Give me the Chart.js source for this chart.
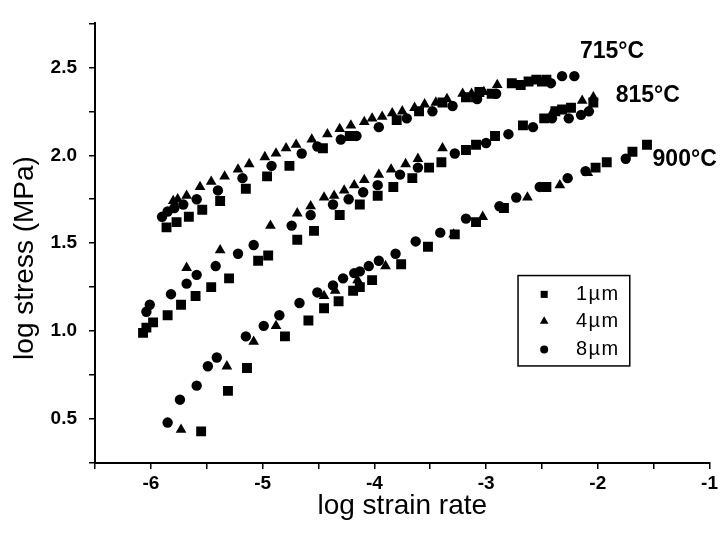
<!DOCTYPE html>
<html>
<head>
<meta charset="utf-8">
<script src="https://cdn.jsdelivr.net/npm/chart.js@4.4.0/dist/chart.umd.min.js"></script>
<style>
  body { margin: 0; background: #fff; }
  #wrap { width: 721px; height: 536px; }
</style>
</head>
<body>
<div id="wrap"><canvas id="myChart"></canvas></div>
<script>
// [log strain rate, log stress]
const sq715 = [[-5.86,1.59],[-5.77,1.62],[-5.66,1.65],[-5.54,1.69],[-5.38,1.74],[-5.15,1.81],[-4.96,1.88],[-4.76,1.94],[-4.46,2.04],[-4.22,2.11],[-3.80,2.20],[-3.60,2.25],[-3.39,2.30],[-3.18,2.33],[-3.09,2.33],[-3.06,2.36],[-2.95,2.35],[-2.77,2.41],[-2.69,2.40],[-2.62,2.42],[-2.55,2.43],[-2.50,2.42],[-2.46,2.43]];
const tri715 = [[-5.80,1.74],[-5.76,1.75],[-5.68,1.77],[-5.56,1.82],[-5.46,1.85],[-5.34,1.88],[-5.22,1.92],[-5.12,1.95],[-4.98,1.99],[-4.88,2.01],[-4.79,2.04],[-4.70,2.06],[-4.56,2.09],[-4.42,2.12],[-4.31,2.15],[-4.21,2.17],[-4.09,2.19],[-4.02,2.21],[-3.93,2.22],[-3.84,2.24],[-3.75,2.25],[-3.64,2.27],[-3.55,2.29],[-3.45,2.30],[-3.35,2.32],[-3.21,2.35],[-3.13,2.35],[-3.02,2.36],[-2.90,2.40]];
const cir715 = [[-5.90,1.65],[-5.85,1.68],[-5.79,1.70],[-5.71,1.72],[-5.59,1.75],[-5.40,1.80],[-5.18,1.87],[-4.92,1.94],[-4.65,2.01],[-4.51,2.05],[-4.30,2.09],[-4.16,2.11],[-3.96,2.16],[-3.71,2.21],[-3.48,2.25],[-3.30,2.28],[-3.08,2.32],[-2.91,2.35],[-2.42,2.41],[-2.32,2.45],[-2.21,2.45]];

const sq815 = [[-6.07,0.99],[-6.04,1.02],[-5.98,1.05],[-5.85,1.09],[-5.73,1.15],[-5.60,1.20],[-5.46,1.25],[-5.30,1.30],[-5.04,1.40],[-4.95,1.43],[-4.69,1.52],[-4.54,1.57],[-4.31,1.66],[-4.13,1.72],[-3.97,1.77],[-3.83,1.82],[-3.66,1.87],[-3.51,1.93],[-3.40,1.96],[-3.18,2.03],[-3.09,2.06],[-2.92,2.11],[-2.67,2.17],[-2.48,2.21],[-2.38,2.25],[-2.32,2.26],[-2.24,2.27],[-2.04,2.30]];
const tri815 = [[-5.68,1.36],[-5.38,1.46],[-4.93,1.60],[-4.69,1.67],[-4.57,1.71],[-4.45,1.76],[-4.36,1.77],[-4.27,1.80],[-4.18,1.83],[-4.09,1.86],[-3.96,1.89],[-3.85,1.92],[-3.72,1.95],[-3.61,1.98],[-3.39,2.04],[-2.42,2.23],[-2.14,2.31],[-2.04,2.33]];
const cir815 = [[-6.04,1.11],[-6.01,1.15],[-5.82,1.21],[-5.68,1.27],[-5.59,1.32],[-5.42,1.37],[-5.22,1.44],[-5.08,1.49],[-4.74,1.60],[-4.57,1.66],[-4.37,1.72],[-4.23,1.75],[-4.10,1.79],[-3.97,1.83],[-3.77,1.89],[-3.61,1.93],[-3.28,2.01],[-3.00,2.07],[-2.80,2.12],[-2.58,2.16],[-2.41,2.21],[-2.26,2.21],[-2.15,2.23],[-2.08,2.25]];

const sq900 = [[-5.55,0.43],[-5.31,0.66],[-5.14,0.79],[-4.80,0.97],[-4.59,1.06],[-4.45,1.13],[-4.32,1.17],[-4.19,1.23],[-4.13,1.25],[-4.02,1.29],[-3.76,1.38],[-3.52,1.48],[-3.28,1.55],[-3.09,1.62],[-2.84,1.70],[-2.46,1.82],[-2.02,1.93],[-1.92,1.96],[-1.69,2.02],[-1.56,2.06]];
const tri900 = [[-5.73,0.44],[-5.32,0.80],[-5.08,0.94],[-4.88,1.03],[-4.45,1.20],[-4.35,1.23],[-4.15,1.29],[-3.90,1.37],[-3.29,1.55],[-3.03,1.65],[-2.63,1.76],[-2.34,1.83],[-2.09,1.90]];
const cir900 = [[-5.85,0.48],[-5.74,0.61],[-5.59,0.69],[-5.49,0.80],[-5.41,0.85],[-5.15,0.97],[-4.99,1.03],[-4.85,1.09],[-4.67,1.16],[-4.51,1.22],[-4.37,1.26],[-4.28,1.30],[-4.18,1.33],[-4.13,1.34],[-4.05,1.37],[-3.96,1.40],[-3.81,1.44],[-3.63,1.51],[-3.41,1.56],[-3.18,1.64],[-2.88,1.71],[-2.73,1.76],[-2.52,1.82],[-2.27,1.87],[-2.11,1.91],[-1.75,1.98]];

const sizeNames = ['1µm', '4µm', '8µm'];
const tempLabels = ['715°C', '815°C', '900°C'];
const tempLabelPos = [[-2.16, 2.59], [-1.84, 2.34], [-1.51, 1.975]];

const FONT = '"Liberation Sans", Arial, Helvetica, sans-serif';

function pts(...arrs) {
  return [].concat(...arrs).map(p => ({ x: p[0], y: p[1] }));
}

function drawMarker(ctx, style, x, y, r) {
  ctx.beginPath();
  if (style === 'rect') {
    const s = r * Math.SQRT1_2;
    ctx.rect(x - s, y - s, 2 * s, 2 * s);
  } else if (style === 'triangle') {
    ctx.moveTo(x, y - r);
    ctx.lineTo(x + r * 0.866, y + r * 0.5);
    ctx.lineTo(x - r * 0.866, y + r * 0.5);
    ctx.closePath();
  } else {
    ctx.arc(x, y, r, 0, Math.PI * 2);
  }
  ctx.fill();
}

// titles, temperature labels and the boxed legend
const extras = {
  id: 'extras',
  afterDraw(chart) {
    const ctx = chart.ctx;
    const xs = chart.scales.x, ys = chart.scales.y;
    ctx.save();
    ctx.fillStyle = '#000';
    ctx.strokeStyle = '#000';

    ctx.font = '28px ' + FONT;
    ctx.textAlign = 'center';
    ctx.textBaseline = 'middle';
    ctx.fillText('log strain rate', (chart.chartArea.left + chart.chartArea.right) / 2, 506);
    ctx.save();
    ctx.translate(25, 258);
    ctx.rotate(-Math.PI / 2);
    ctx.fillText('log stress (MPa)', 0, 0);
    ctx.restore();

    ctx.font = 'bold 23px ' + FONT;
    ctx.textAlign = 'left';
    tempLabels.forEach((t, i) => {
      ctx.fillText(t, xs.getPixelForValue(tempLabelPos[i][0]), ys.getPixelForValue(tempLabelPos[i][1]));
    });

    // legend
    const x0 = xs.getPixelForValue(-2.714), x1 = xs.getPixelForValue(-1.714);
    const y0 = ys.getPixelForValue(1.316), y1 = ys.getPixelForValue(0.802);
    ctx.lineWidth = 1.5;
    ctx.strokeRect(x0, y0, x1 - x0, y1 - y0);
    const rows = [1.209, 1.056, 0.896];
    const styles = ['rect', 'triangle', 'circle'];
    const radii = [5, 5, 4];
    ctx.font = '20px ' + FONT;
    if ('letterSpacing' in ctx) ctx.letterSpacing = '1.5px';
    rows.forEach((v, i) => {
      const py = ys.getPixelForValue(v);
      drawMarker(ctx, styles[i], xs.getPixelForValue(-2.48), py, radii[i]);
      ctx.fillText(sizeNames[i], xs.getPixelForValue(-2.196), py);
    });
    ctx.restore();
  }
};

const axisBits = {
  grid: { drawOnChartArea: false, drawTicks: true, tickLength: 6, color: '#000', lineWidth: 1.5 },
  border: { display: true, color: '#000', width: 2 }
};

new Chart(document.getElementById('myChart'), {
  type: 'scatter',
  data: {
    datasets: [
      { label: sizeNames[0], data: pts(sq715, sq815, sq900), pointStyle: 'rect', pointRadius: 7 },
      { label: sizeNames[1], data: pts(tri715, tri815, tri900), pointStyle: 'triangle', pointRadius: 6.2 },
      { label: sizeNames[2], data: pts(cir715, cir815, cir900), pointStyle: 'circle', pointRadius: 5.2 }
    ].map(d => Object.assign(d, { backgroundColor: '#000', borderColor: '#000', borderWidth: 0, showLine: false }))
  },
  options: {
    responsive: true,
    maintainAspectRatio: false,
    animation: false,
    layout: { padding: { left: 0, right: 10, top: 10, bottom: 0 } },
    plugins: { legend: { display: false }, tooltip: { enabled: false } },
    scales: {
      x: Object.assign({
        type: 'linear', min: -6.5, max: -1,
        ticks: {
          stepSize: 0.5, autoSkip: false, maxRotation: 0, padding: 3, color: '#000',
          font: { family: FONT, size: 19, weight: 'bold' },
          callback: v => Number.isInteger(v) ? String(v) : ''
        },
        afterFit: s => { s.height = 73; }
      }, axisBits),
      y: Object.assign({
        type: 'linear', min: 0.25, max: 2.75,
        ticks: {
          stepSize: 0.25, autoSkip: false, padding: 12, color: '#000',
          font: { family: FONT, size: 19, weight: 'bold' },
          callback: v => Math.abs(v * 2 - Math.round(v * 2)) < 1e-9 ? v.toFixed(1) : ''
        },
        afterFit: s => { s.width = 95; }
      }, axisBits)
    }
  },
  plugins: [extras]
});
</script>
</body>
</html>
